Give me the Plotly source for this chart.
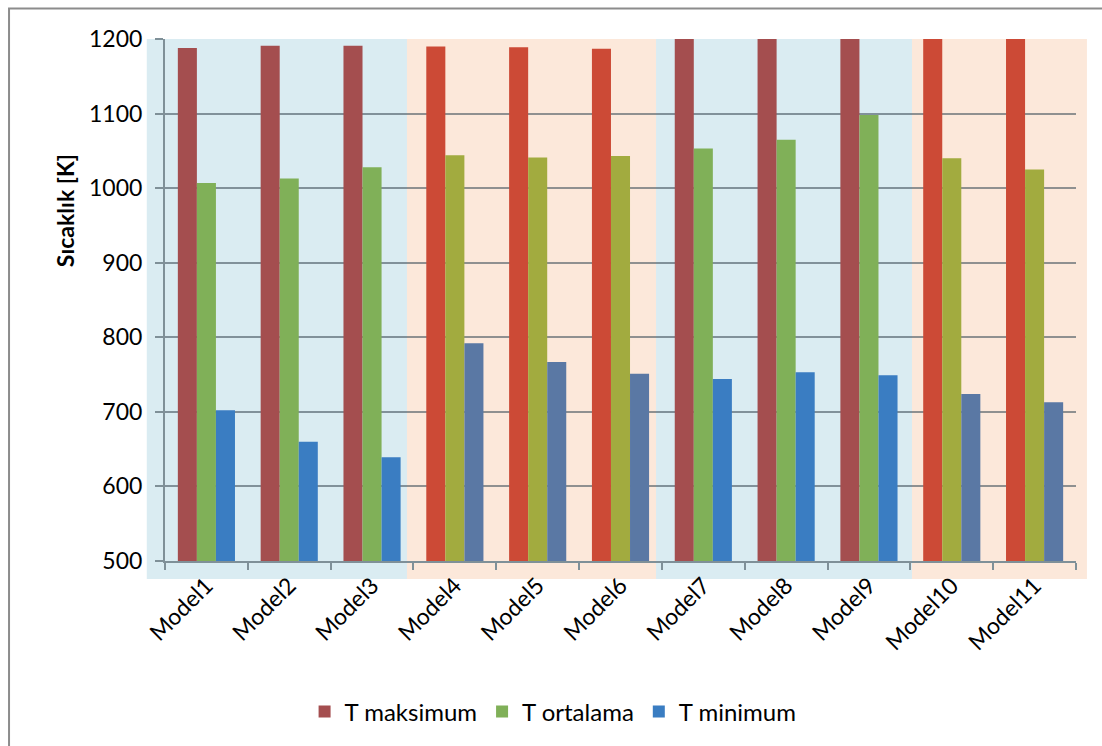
import plotly.graph_objects as go

categories = ["Model1", "Model2", "Model3", "Model4", "Model5", "Model6",
              "Model7", "Model8", "Model9", "Model10", "Model11"]
t_max = [1188, 1191, 1191, 1190, 1189, 1187, 1240, 1250, 1255, 1235, 1230]
t_ort = [1007, 1013, 1028, 1044, 1041, 1043, 1053, 1065, 1098, 1040, 1025]
t_min = [702, 660, 639, 792, 767, 751, 744, 753, 749, 724, 713]

# group shading per model: "b" = blue region, "p" = peach region
region = ["b", "b", "b", "p", "p", "p", "b", "b", "b", "p", "p"]

col_max = {"b": "#a44e4f", "p": "#cc4a36"}
col_ort = {"b": "#80b058", "p": "#a2ab3f"}
col_min = {"b": "#3a7dc2", "p": "#5a78a4"}

FONT = "Lato"
Y_TITLE = "Sıcaklık [K]"

fig = go.Figure()
series = [("T maksimum", t_max, col_max),
          ("T ortalama", t_ort, col_ort),
          ("T minimum", t_min, col_min)]
for name, vals, cmap in series:
    fig.add_trace(go.Bar(
        x=categories, y=vals, name=name,
        marker=dict(color=[cmap[r] for r in region], line=dict(width=0)),
    ))

# background bands (paper coords)
bands = [(-0.020, 0.2656, "#daecf2"), (0.2656, 0.539, "#fce8da"),
         (0.539, 0.820, "#daecf2"), (0.820, 1.012, "#fce8da")]
shapes = []
for x0, x1, c in bands:
    shapes.append(dict(type="rect", xref="paper", yref="paper", x0=x0, x1=x1,
                       y0=-0.0345, y1=1.0, fillcolor=c, line=dict(width=0),
                       layer="below"))
# outer chart border
shapes.append(dict(type="rect", xref="paper", yref="paper", x0=-0.1712, x1=1.2,
                   y0=-0.6, y1=1.0584, line=dict(color="#8c8c8c", width=2),
                   fillcolor="rgba(0,0,0,0)", layer="below"))

fig.update_layout(
    width=1102, height=746,
    margin=dict(l=165, r=26, t=39, b=185),
    paper_bgcolor="white", plot_bgcolor="rgba(0,0,0,0)",
    barmode="group", bargap=0.31, bargroupgap=0,
    shapes=shapes,
    font=dict(family=FONT, size=23, color="black"),
    legend=dict(orientation="h", x=0.426, xanchor="center", y=-0.289,
                yanchor="middle", font=dict(family=FONT, size=24),
                itemwidth=30, traceorder="normal"),
    showlegend=True,
    annotations=[dict(text="<b>" + Y_TITLE + "</b>", xref="paper", yref="paper",
                      x=-0.1098, y=0.672, xanchor="center", yanchor="middle",
                      textangle=-90, showarrow=False,
                      font=dict(family=FONT, size=23, color="black"))],
)
fig.update_yaxes(range=[500, 1200], dtick=100, tickmode="linear",
                 showgrid=True, gridcolor="rgba(70,85,95,0.6)", gridwidth=2,
                 showline=True, linecolor="#7f9098", linewidth=2,
                 ticks="outside", ticklen=8, tickcolor="#7f9098", tickwidth=2,
                 zeroline=False, ticklabelstandoff=8,
                 tickfont=dict(family=FONT, size=23))
fig.update_xaxes(showgrid=False, showline=True, linecolor="#7f9098", linewidth=2,
                 ticks="outside", ticklen=7, tickcolor="#7f9098", tickwidth=2,
                 tickson="boundaries", tickangle=-45,
                 tickfont=dict(family=FONT, size=23))

fig.write_html("out.html")
